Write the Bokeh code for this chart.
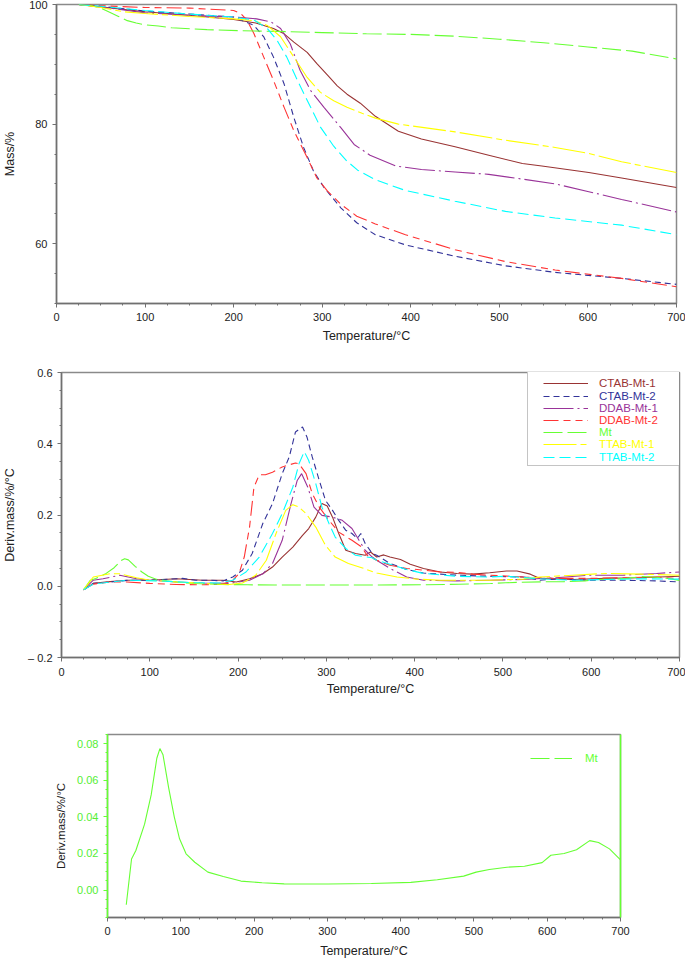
from bokeh.plotting import figure
from bokeh.models import (Range1d, Legend, LegendItem, SingleIntervalTicker,
                          FixedTicker, LinearAxis, NumeralTickFormatter)
from bokeh.embed import file_html
from bokeh.resources import INLINE

# ---------------- data ----------------
series_names = ["CTAB-Mt-1", "CTAB-Mt-2", "DDAB-Mt-1", "DDAB-Mt-2", "Mt", "TTAB-Mt-1", "TTAB-Mt-2"]

# TG (mass %) curves
tg_ctab1_t = [25, 50, 100, 150, 200, 225, 245, 257, 268, 283, 294, 306, 317, 328, 343, 360, 386, 412, 450, 488, 526, 548, 601, 638, 700]
tg_ctab1_m = [100, 99.6, 98.8, 98.2, 97.5, 96.9, 96.0, 95.1, 93.7, 92.0, 90.1, 88.2, 86.4, 85.0, 83.5, 81.3, 78.8, 77.5, 76.2, 74.8, 73.4, 73.0, 71.9, 71.0, 69.4]

tg_ctab2_t = [25, 50, 100, 150, 200, 223, 234, 245, 257, 268, 279, 290, 302, 321, 339, 360, 394, 450, 507, 563, 638, 700]
tg_ctab2_m = [100, 99.7, 98.9, 98.4, 97.9, 96.5, 94.6, 91.2, 86.7, 81.1, 76.1, 72.2, 69.4, 66.0, 63.5, 61.5, 59.8, 57.9, 56.3, 55.2, 54.2, 53.2]

tg_ddab1_t = [25, 50, 100, 150, 200, 226, 242, 253, 264, 275, 287, 302, 321, 336, 354, 383, 412, 450, 488, 526, 563, 601, 638, 700]
tg_ddab1_m = [100, 99.6, 98.6, 98.2, 97.9, 97.6, 97.1, 96.0, 93.4, 89.0, 85.6, 82.8, 79.4, 76.6, 74.8, 73.0, 72.4, 72.0, 71.6, 70.8, 70.0, 68.7, 67.4, 65.3]

tg_ddab2_t = [25, 50, 100, 150, 200, 208, 215, 223, 234, 245, 257, 268, 283, 294, 306, 321, 339, 360, 394, 450, 507, 563, 638, 700]
tg_ddab2_m = [100, 99.8, 99.5, 99.4, 99.0, 98.5, 97.4, 95.1, 91.2, 87.3, 82.8, 78.9, 74.4, 71.0, 68.8, 66.6, 64.6, 63.3, 61.5, 59.0, 57.0, 55.6, 54.2, 52.8]

tg_mt_t = [25, 40, 50, 60, 70, 80, 90, 100, 115, 130, 170, 210, 250, 300, 350, 400, 450, 500, 550, 600, 650, 700]
tg_mt_m = [100, 99.8, 99.4, 98.7, 98.0, 97.3, 96.9, 96.6, 96.4, 96.1, 95.8, 95.6, 95.5, 95.3, 95.1, 95.0, 94.7, 94.2, 93.6, 92.9, 92.2, 90.9]

tg_ttab1_t = [25, 50, 75, 100, 150, 200, 223, 238, 253, 268, 283, 298, 313, 328, 345, 360, 386, 450, 507, 563, 601, 638, 700]
tg_ttab1_m = [100, 99.5, 98.8, 98.5, 98.0, 97.6, 97.3, 96.5, 94.6, 91.2, 87.8, 85.3, 83.9, 82.8, 81.8, 81.0, 80.0, 78.7, 77.3, 76.1, 75.1, 73.7, 71.9]

tg_ttab2_t = [25, 50, 100, 150, 200, 223, 238, 249, 260, 272, 283, 298, 313, 328, 340, 360, 394, 450, 507, 563, 638, 700]
tg_ttab2_m = [100, 99.7, 99.0, 98.4, 97.9, 97.4, 96.0, 94.0, 91.2, 87.3, 84.0, 79.5, 76.3, 73.8, 72.3, 70.7, 68.9, 67.1, 65.4, 64.3, 63.1, 61.5]

# DTG (deriv. mass %/°C) curves
dtg_ctab1_t = [25, 36, 55, 74, 100, 130, 160, 183, 198, 213, 228, 239, 250, 262, 273, 280, 288, 295, 301, 307, 314, 322, 333, 344, 350, 357, 365, 372, 384, 395, 410, 429, 448, 466, 485, 504, 516, 531, 542, 579, 617, 655, 700]
dtg_ctab1_d = [-0.010, 0.008, 0.013, 0.017, 0.017, 0.021, 0.017, 0.017, 0.012, 0.021, 0.035, 0.054, 0.082, 0.110, 0.143, 0.162, 0.194, 0.232, 0.225, 0.194, 0.148, 0.101, 0.092, 0.087, 0.096, 0.082, 0.088, 0.082, 0.075, 0.062, 0.050, 0.040, 0.036, 0.034, 0.038, 0.043, 0.043, 0.034, 0.022, 0.019, 0.022, 0.024, 0.028]

dtg_ctab2_t = [25, 36, 55, 77, 100, 122, 137, 152, 168, 183, 194, 205, 216, 228, 239, 245, 250, 258, 265, 273, 278, 284, 292, 299, 307, 314, 322, 329, 335, 339, 344, 352, 357, 372, 391, 410, 448, 485, 523, 542, 560, 598, 636, 674, 700]
dtg_ctab2_d = [-0.010, 0.008, 0.012, 0.017, 0.017, 0.020, 0.022, 0.017, 0.017, 0.015, 0.026, 0.045, 0.092, 0.176, 0.232, 0.278, 0.316, 0.363, 0.433, 0.447, 0.419, 0.363, 0.297, 0.241, 0.213, 0.185, 0.157, 0.148, 0.134, 0.148, 0.120, 0.092, 0.087, 0.064, 0.047, 0.037, 0.031, 0.028, 0.026, 0.017, 0.020, 0.017, 0.017, 0.015, 0.012]

dtg_ddab1_t = [25, 36, 47, 66, 85, 100, 130, 160, 190, 213, 228, 239, 250, 260, 267, 272, 279, 286, 295, 307, 318, 329, 337, 344, 352, 357, 372, 391, 410, 448, 485, 523, 560, 598, 636, 674, 700]
dtg_ddab1_d = [-0.010, 0.017, 0.021, 0.031, 0.021, 0.017, 0.012, 0.009, 0.008, 0.017, 0.035, 0.064, 0.129, 0.232, 0.297, 0.316, 0.278, 0.222, 0.199, 0.194, 0.185, 0.162, 0.129, 0.101, 0.082, 0.073, 0.050, 0.026, 0.017, 0.015, 0.017, 0.019, 0.024, 0.031, 0.031, 0.036, 0.040]

dtg_ddab2_t = [25, 36, 55, 74, 100, 130, 160, 183, 194, 201, 207, 213, 218, 224, 231, 239, 250, 265, 269, 277, 284, 292, 303, 314, 329, 340, 346, 357, 372, 391, 410, 429, 448, 466, 485, 523, 560, 598, 636, 674, 700]
dtg_ddab2_d = [-0.010, 0.006, 0.012, 0.012, 0.008, 0.005, 0.004, 0.006, 0.017, 0.035, 0.082, 0.166, 0.278, 0.313, 0.313, 0.320, 0.335, 0.346, 0.344, 0.316, 0.260, 0.222, 0.185, 0.152, 0.129, 0.110, 0.087, 0.073, 0.059, 0.050, 0.045, 0.040, 0.039, 0.034, 0.031, 0.026, 0.022, 0.022, 0.024, 0.026, 0.021]

dtg_mt_t = [25.6, 32.8, 38.7, 50.6, 59.6, 67.3, 71.5, 75.7, 83.4, 91.1, 98.3, 107.2, 119.1, 137, 158, 182, 211, 241, 301, 360, 414, 450, 486, 503, 521, 545, 569, 593, 605, 623, 640, 658, 670, 685, 700]
dtg_mt_d = [-0.008, 0.017, 0.0216, 0.036, 0.052, 0.072, 0.0773, 0.074, 0.056, 0.040, 0.028, 0.0198, 0.0152, 0.0098, 0.0074, 0.0049, 0.0040, 0.0034, 0.0033, 0.0036, 0.0042, 0.0056, 0.0076, 0.0098, 0.0112, 0.0125, 0.013, 0.015, 0.019, 0.020, 0.022, 0.027, 0.026, 0.0225, 0.0165]

dtg_ttab1_t = [25, 36, 55, 66, 85, 100, 130, 160, 190, 205, 220, 232, 243, 254, 262, 269, 277, 288, 299, 310, 325, 340, 357, 380, 403, 429, 485, 523, 542, 579, 617, 655, 700]
dtg_ttab1_d = [-0.010, 0.026, 0.035, 0.035, 0.024, 0.017, 0.012, 0.008, 0.005, 0.009, 0.031, 0.073, 0.148, 0.213, 0.229, 0.222, 0.204, 0.166, 0.115, 0.082, 0.064, 0.052, 0.037, 0.026, 0.020, 0.017, 0.017, 0.020, 0.026, 0.031, 0.036, 0.034, 0.031]

dtg_ttab2_t = [25, 36, 74, 111, 149, 179, 194, 209, 224, 239, 250, 262, 269, 275, 280, 288, 295, 303, 310, 322, 333, 352, 357, 372, 391, 410, 448, 485, 504, 542, 579, 617, 655, 700]
dtg_ttab2_d = [-0.010, 0.006, 0.017, 0.015, 0.010, 0.009, 0.017, 0.040, 0.082, 0.148, 0.204, 0.278, 0.344, 0.378, 0.353, 0.288, 0.222, 0.176, 0.138, 0.106, 0.087, 0.080, 0.073, 0.062, 0.047, 0.036, 0.028, 0.026, 0.028, 0.021, 0.017, 0.019, 0.021, 0.020]

x_tick_labels = ["0", "100", "200", "300", "400", "500", "600", "700"]
dtg_tick_values = [-0.2, 0.0, 0.2, 0.4, 0.6]
dtg_tick_labels = ["\u2013 0.2", "0.0", "0.2", "0.4", "0.6"]
mt_tick_values = [0.0, 0.02, 0.04, 0.06, 0.08]

# ---------------- styles ----------------
FONT = "Liberation Sans"
COLORS = {"CTAB-Mt-1": "#993333", "CTAB-Mt-2": "#333399", "DDAB-Mt-1": "#993399",
          "DDAB-Mt-2": "#ff3333", "Mt": "#66ff33", "TTAB-Mt-1": "#ffff00", "TTAB-Mt-2": "#00ffff"}
DASHES = {"CTAB-Mt-1": "solid", "CTAB-Mt-2": "6 4", "DDAB-Mt-1": "30 4 2 4",
          "DDAB-Mt-2": "15 5 7 5 7 5", "Mt": "19 5", "TTAB-Mt-1": "33 4 6 4", "TTAB-Mt-2": "11 5"}
AXIS_COL = "#707070"
OUTLINE_COL = "#8a8a8a"
NAN = float("nan")

TG = {"CTAB-Mt-1": (tg_ctab1_t, tg_ctab1_m), "CTAB-Mt-2": (tg_ctab2_t, tg_ctab2_m),
      "DDAB-Mt-1": (tg_ddab1_t, tg_ddab1_m), "DDAB-Mt-2": (tg_ddab2_t, tg_ddab2_m),
      "Mt": (tg_mt_t, tg_mt_m), "TTAB-Mt-1": (tg_ttab1_t, tg_ttab1_m), "TTAB-Mt-2": (tg_ttab2_t, tg_ttab2_m)}
DTG = {"CTAB-Mt-1": (dtg_ctab1_t, dtg_ctab1_d), "CTAB-Mt-2": (dtg_ctab2_t, dtg_ctab2_d),
       "DDAB-Mt-1": (dtg_ddab1_t, dtg_ddab1_d), "DDAB-Mt-2": (dtg_ddab2_t, dtg_ddab2_d),
       "Mt": (dtg_mt_t, dtg_mt_d), "TTAB-Mt-1": (dtg_ttab1_t, dtg_ttab1_d), "TTAB-Mt-2": (dtg_ttab2_t, dtg_ttab2_d)}


def make_fig(height, y_range, top, bottom, left, right):
    p = figure(width=685, height=height, x_range=Range1d(0, 700), y_range=y_range,
               output_backend="svg", toolbar_location=None,
               min_border_top=top, min_border_bottom=bottom,
               min_border_left=left, min_border_right=right)
    p.grid.visible = False
    p.outline_line_color = OUTLINE_COL
    p.outline_line_width = 1.5
    p.background_fill_color = "white"
    p.border_fill_color = "white"
    for ax in (p.xaxis[0], p.yaxis[0]):
        ax.axis_line_color = AXIS_COL
        ax.axis_line_width = 1.5
        ax.major_tick_line_color = AXIS_COL
        ax.minor_tick_line_color = AXIS_COL
        ax.major_tick_in = 0
        ax.major_tick_out = 4
        ax.minor_tick_in = 0
        ax.minor_tick_out = 2
        ax.major_label_text_font = FONT
        ax.major_label_text_font_size = "11px"
        ax.major_label_text_color = "#222222"
        ax.major_label_standoff = 5
        ax.axis_label_text_font = FONT
        ax.axis_label_text_font_size = "12.5px"
        ax.axis_label_text_font_style = "normal"
        ax.axis_label_text_color = "#222222"
    p.xaxis[0].ticker = SingleIntervalTicker(interval=100, num_minor_ticks=4)
    p.xaxis[0].major_label_overrides = {v * 100: s for v, s in enumerate(x_tick_labels)}
    p.xaxis[0].axis_label = "Temperature/\u00b0C"
    return p


# ---------------- panel 1: TG ----------------
p1 = make_fig(348, Range1d(50, 100), 4, 45, 56, 9)
p1.yaxis[0].ticker = SingleIntervalTicker(interval=20, num_minor_ticks=4)
p1.yaxis[0].axis_label = "Mass/%"
p1.yaxis[0].axis_label_standoff = 9
p1.xaxis[0].axis_label_standoff = 5
for name in series_names:
    t, m = TG[name]
    p1.line(t, m, line_color=COLORS[name], line_dash=DASHES[name], line_width=1.1)

# ---------------- panel 2: DTG ----------------
F2H = 352 - 24 - 43
p2 = make_fig(352, Range1d(-0.2, 0.6), 24, 43, 58, 6)
p2.yaxis[0].ticker = FixedTicker(ticks=dtg_tick_values,
                                 minor_ticks=[-0.2 + 0.05 * i for i in range(17)])
p2.yaxis[0].major_label_overrides = dict(zip(dtg_tick_values, dtg_tick_labels))
p2.yaxis[0].axis_label = "Deriv.mass/%/\u00b0C"
p2.yaxis[0].axis_label_standoff = 8
p2.xaxis[0].major_label_standoff = 6
p2.xaxis[0].axis_label_standoff = 3
renderers2 = {}
for name in series_names:
    t, d = DTG[name]
    renderers2[name] = p2.line(t, d, line_color=COLORS[name], line_dash=DASHES[name], line_width=1.1)

dummy_box = p2.line(x=[NAN], y=[NAN], line_alpha=0)
box_legend = Legend(items=[LegendItem(label=" ", renderers=[dummy_box])],
                    location=(466, F2H - 94), padding=0, margin=0, spacing=0,
                    glyph_width=1, glyph_height=94, label_width=154, label_height=94,
                    label_standoff=0, label_text_alpha=0,
                    border_line_color=OUTLINE_COL, border_line_width=1.5,
                    background_fill_color="white", background_fill_alpha=1)
p2.add_layout(box_legend)
for i, name in enumerate(series_names):
    lg = Legend(items=[LegendItem(label=name, renderers=[renderers2[name]])],
                location=(482, F2H - 11.3 - 12.2 * i - 6), padding=0, margin=0, spacing=0,
                glyph_width=45, glyph_height=12, label_height=12, label_standoff=11,
                label_text_font=FONT, label_text_font_size="11.5px",
                label_text_color=COLORS[name],
                border_line_alpha=0, background_fill_alpha=0)
    p2.add_layout(lg)

# ---------------- panel 3: Mt DTG ----------------
F3H = 260 - 34 - 43
p3 = make_fig(260, Range1d(-0.015, 0.085), 34, 43, 107, 65)
p3.yaxis[0].ticker = FixedTicker(ticks=mt_tick_values,
                                 minor_ticks=[-0.015 + 0.005 * i for i in range(21)])
p3.yaxis[0].formatter = NumeralTickFormatter(format="0.00")
p3.yaxis[0].axis_line_color = "#66ff33"
p3.yaxis[0].major_tick_line_color = "#66ff33"
p3.yaxis[0].minor_tick_line_color = "#66ff33"
p3.yaxis[0].major_label_text_color = "#55ee33"
p3.yaxis[0].axis_label = "Deriv.mass/%/\u00b0C"
p3.yaxis[0].axis_label_text_font_size = "11.5px"
p3.yaxis[0].axis_label_standoff = 7
p3.xaxis[0].axis_label_standoff = 6
right_axis = LinearAxis(ticker=FixedTicker(ticks=[]), axis_line_color="#66ff33",
                        axis_line_width=1.5, major_tick_out=0, minor_tick_out=0,
                        major_label_text_alpha=0)
p3.add_layout(right_axis, "right")
p3.line(dtg_mt_t, dtg_mt_d, line_color=COLORS["Mt"], line_width=1.1)
dummy_mt = p3.line(x=[NAN], y=[NAN], line_color=COLORS["Mt"], line_dash=DASHES["Mt"], line_width=1.1)
lg3 = Legend(items=[LegendItem(label="Mt", renderers=[dummy_mt])],
             location=(423, F3H - 24 - 6), padding=0, margin=0, spacing=0,
             glyph_width=42, glyph_height=12, label_height=12, label_standoff=13,
             label_text_font=FONT, label_text_font_size="11.5px",
             label_text_color=COLORS["Mt"],
             border_line_alpha=0, background_fill_alpha=0)
p3.add_layout(lg3)

open("out.html", "w").write(file_html([p1, p2, p3], INLINE))
